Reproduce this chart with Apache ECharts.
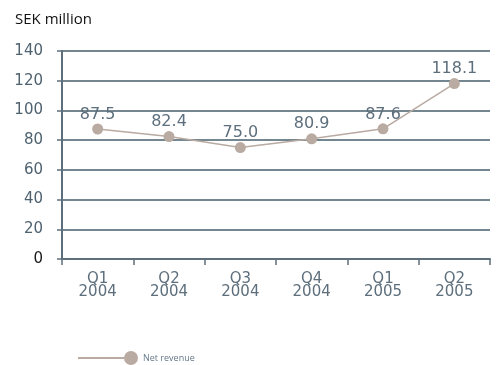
<!DOCTYPE html>
<html>
<head>
<meta charset="utf-8">
<script src="https://cdn.jsdelivr.net/npm/echarts@6/dist/echarts.min.js"></script>
<style>
  html, body { margin: 0; padding: 0; background: #fff; }
  #chart { width: 499px; height: 365px; }
</style>
</head>
<body>
<div id="chart"></div>
<script>
const categories = ['Q1\n2004', 'Q2\n2004', 'Q3\n2004', 'Q4\n2004', 'Q1\n2005', 'Q2\n2005']
const netRevenue = [87.5, 82.4, 75.0, 80.9, 87.6, 118.1]
const yTicks = [0, 20, 40, 60, 80, 100, 120, 140]

const axisColor = '#5d6f7c'
const lineColor = '#b9aaa2'

const chart = echarts.init(document.getElementById('chart'))
chart.setOption({
  animation: false,
  title: {
    text: 'SEK million',
    left: 10,
    top: 7,
    textStyle: { fontFamily: 'Open Sans', fontSize: 15, fontWeight: 'normal', color: '#111' }
  },
  legend: {
    left: 78,
    top: 351,
    padding: 0,
    itemWidth: 60,
    itemHeight: 14,
    itemGap: 6,
    textStyle: { fontFamily: 'Open Sans', fontSize: 9, color: '#66788a' },
    data: [{ name: 'Net revenue', icon: 'path://M0,6L46,6L46,8L0,8Z M53,0A7,7,0,1,1,52.99,0Z' }]
  },
  grid: { left: 62, right: 9, top: 51, bottom: 106 },
  xAxis: {
    type: 'category',
    data: categories,
    boundaryGap: true,
    axisLine: { lineStyle: { color: axisColor, width: 2 } },
    axisTick: { show: true, length: 6, lineStyle: { color: axisColor, width: 1.5 } },
    axisLabel: {
      fontFamily: 'DejaVu Sans',
      fontSize: 15,
      lineHeight: 13,
      color: '#5d6f7c',
      margin: 14
    }
  },
  yAxis: {
    type: 'value',
    min: 0,
    max: 140,
    interval: 20,
    axisLine: { show: true, lineStyle: { color: axisColor, width: 2 } },
    axisTick: { show: true, length: 5, lineStyle: { color: axisColor, width: 1.5 } },
    splitLine: { lineStyle: { color: '#74868f', width: 2 } },
    axisLabel: {
      fontFamily: 'DejaVu Sans',
      fontSize: 15,
      color: v => Number(v) === 0 ? '#1a1a1a' : '#4f6270',
      margin: 19,
      formatter: v => yTicks.includes(v) ? String(v) : ''
    }
  },
  series: [{
    name: 'Net revenue',
    type: 'line',
    data: netRevenue,
    symbol: 'circle',
    symbolSize: 11,
    itemStyle: { color: lineColor },
    lineStyle: { color: lineColor, width: 1.5 },
    label: {
      show: true,
      position: 'top',
      distance: 1,
      fontFamily: 'DejaVu Sans',
      fontSize: 16,
      color: '#5d6f7c',
      formatter: p => p.value.toFixed(1)
    }
  }]
})
</script>
</body>
</html>
